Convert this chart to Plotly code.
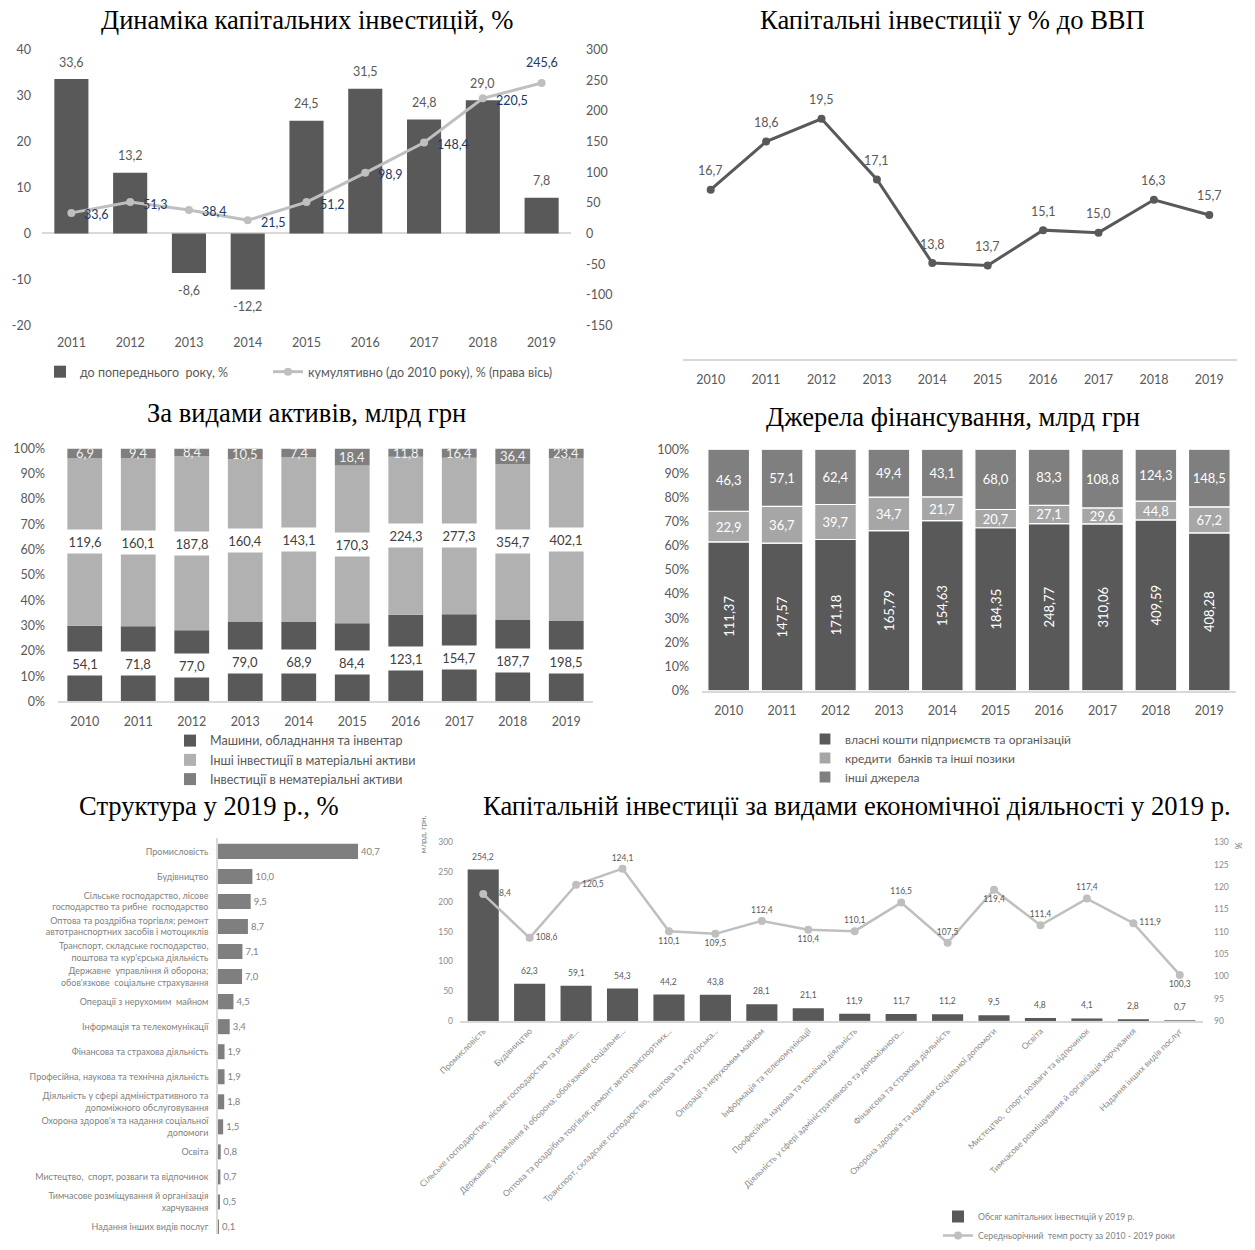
import plotly.graph_objects as go

W, H = 1255, 1250
K = 1.005  # small vertical correction measured against the reference

def fx(px):
    return px / W

def fy(py):
    return 1 - py * K / H

def fmt(v, d=1):
    return f"{v:.{d}f}".replace(".", ",")

# ---------------- DATA ----------------
# Panel 1: dynamics of capital investment
years_dyn = ["2011", "2012", "2013", "2014", "2015", "2016", "2017", "2018", "2019"]
yoy_change = [33.6, 13.2, -8.6, -12.2, 24.5, 31.5, 24.8, 29.0, 7.8]
cumulative = [33.6, 51.3, 38.4, 21.5, 51.2, 98.9, 148.4, 220.5, 245.6]
left_ticks = [-20, -10, 0, 10, 20, 30, 40]
right_ticks = [-150, -100, -50, 0, 50, 100, 150, 200, 250, 300]

# Panel 2: capital investment, % of GDP
years = ["2010", "2011", "2012", "2013", "2014", "2015", "2016", "2017", "2018", "2019"]
gdp_share = [16.7, 18.6, 19.5, 17.1, 13.8, 13.7, 15.1, 15.0, 16.3, 15.7]

# Panel 3: by asset type, bn UAH
machines = [54.1, 71.8, 77.0, 79.0, 68.9, 84.4, 123.1, 154.7, 187.7, 198.5]
tangible_other = [119.6, 160.1, 187.8, 160.4, 143.1, 170.3, 224.3, 277.3, 354.7, 402.1]
intangible = [6.9, 9.4, 8.4, 10.5, 7.4, 18.4, 11.8, 16.4, 36.4, 23.4]

# Panel 4: sources of financing, bn UAH
own_funds = [111.37, 147.57, 171.18, 165.79, 154.63, 184.35, 248.77, 310.06, 409.59, 408.28]
bank_loans = [22.9, 36.7, 39.7, 34.7, 21.7, 20.7, 27.1, 29.6, 44.8, 67.2]
other_sources = [46.3, 57.1, 62.4, 49.4, 43.1, 68.0, 83.3, 108.8, 124.3, 148.5]

# Panel 5: structure in 2019, %
struct_labels = [
    "Промисловість",
    "Будівництво",
    "Сільське господарство, лісове<br>господарство та рибне  господарство",
    "Оптова та роздрібна торгівля; ремонт<br>автотранспортних засобів і мотоциклів",
    "Транспорт, складське господарство,<br>поштова та кур'єрська діяльність",
    "Державне  управління й оборона;<br>обов'язкове  соціальне страхування",
    "Операції з нерухомим  майном",
    "Інформація та телекомунікації",
    "Фінансова та страхова діяльність",
    "Професійна, наукова та технічна діяльність",
    "Діяльність у сфері адміністративного та<br>допоміжного обслуговування",
    "Охорона здоров'я та надання соціальної<br>допомоги",
    "Освіта",
    "Мистецтво,  спорт, розваги та відпочинок",
    "Тимчасове розміщування й організація<br>харчування",
    "Надання інших видів послуг",
]
struct_values = [40.7, 10.0, 9.5, 8.7, 7.1, 7.0, 4.5, 3.4, 1.9, 1.9, 1.8, 1.5, 0.8, 0.7, 0.5, 0.1]

# Panel 6: by economic activity in 2019
activity_labels = [
    "Промисловість",
    "Будівництво",
    "Сільське господарство, лісове господарство та рибне...",
    "Державне управління й оборона; обов'язкове соціальне...",
    "Оптова та роздрібна торгівля; ремонт автотранспортних...",
    "Транспорт, складське господарство, поштова та кур'єрська...",
    "Операції з нерухомим майном",
    "Інформація та телекомунікації",
    "Професійна, наукова та технічна діяльність",
    "Діяльність у сфері адміністративного та допоміжного...",
    "Фінансова та страхова діяльність",
    "Охорона здоров'я та надання соціальної допомоги",
    "Освіта",
    "Мистецтво,  спорт, розваги та відпочинок",
    "Тимчасове розміщування й організація харчування",
    "Надання інших видів послуг",
]
activity_volume = [254.2, 62.3, 59.1, 54.3, 44.2, 43.8, 28.1, 21.1, 11.9, 11.7, 11.2, 9.5, 4.8, 4.1, 2.8, 0.7]
activity_growth = [118.4, 108.6, 120.5, 124.1, 110.1, 109.5, 112.4, 110.4, 110.1, 116.5, 107.5, 119.4, 111.4, 117.4, 111.9, 100.3]

# ---------------- STYLE ----------------
FONT = "Lato"
SERIF = "Liberation Serif"
DARK = "#595959"
MID = "#7f7f7f"
LIGHT = "#b1b1b1"
LINE_L = "#bfbfbf"
AXIS_LINE = "#d9d9d9"
TICK_C = "#595959"
NAVY = "#203864"
TITLE_SIZE = 26.6

growth_text_pos = ["middle right", "middle right", "middle right", "top center", "bottom center",
                   "bottom center", "top center", "bottom center", "top center", "top center",
                   "top center", "bottom center", "top center", "top center", "middle right",
                   "bottom center"]

fig = go.Figure()
annotations = []

# ---------- Panel 1 ----------
fig.add_trace(go.Bar(
    x=years_dyn, y=yoy_change, xaxis="x", yaxis="y", width=0.58,
    marker=dict(color=DARK), name="до попереднього  року, %", legend="legend",
))
for i, v in enumerate(yoy_change):
    annotations.append(dict(
        x=i, y=v, xref="x", yref="y", text=fmt(v), showarrow=False,
        xanchor="center", yanchor="middle", yshift=17 if v >= 0 else -17,
        font=dict(family=FONT, size=12.5, color=DARK),
    ))
fig.add_trace(go.Scatter(
    x=years_dyn, y=cumulative, xaxis="x", yaxis="y2", mode="lines+markers",
    line=dict(color=LINE_L, width=3), marker=dict(color=LINE_L, size=8),
    name="кумулятивно (до 2010 року), % (права вісь)", cliponaxis=False,
    legend="legend2",
))
n_cum = len(cumulative)
for i, v in enumerate(cumulative):
    last = i == n_cum - 1
    annotations.append(dict(
        x=i, y=v, xref="x", yref="y2", text=fmt(v), showarrow=False,
        xanchor="center" if last else "left", yanchor="middle",
        xshift=0 if last else 11, yshift=20 if last else -2,
        font=dict(family=FONT, size=12.5, color=NAVY),
    ))

# ---------- Panel 2 ----------
fig.add_trace(go.Scatter(
    x=years, y=gdp_share, xaxis="x3", yaxis="y3", mode="lines+markers",
    line=dict(color=DARK, width=3), marker=dict(color=DARK, size=8),
    showlegend=False, cliponaxis=False,
))
for i, v in enumerate(gdp_share):
    annotations.append(dict(
        x=i, y=v, xref="x3", yref="y3", text=fmt(v), showarrow=False,
        xanchor="center", yanchor="middle", yshift=19,
        font=dict(family=FONT, size=12.5, color=DARK),
    ))

# ---------- Panel 3 ----------
tot3 = [a + b + c for a, b, c in zip(machines, tangible_other, intangible)]
p_m = [a / t * 100 for a, t in zip(machines, tot3)]
p_o = [b / t * 100 for b, t in zip(tangible_other, tot3)]
p_i = [c / t * 100 for c, t in zip(intangible, tot3)]
for vals, col, nm in [(p_m, DARK, "Машини, обладнання та інвентар"),
                      (p_o, LIGHT, "Інші інвестиції в матеріальні активи"),
                      (p_i, MID, "Інвестиції в нематеріальні активи")]:
    fig.add_trace(go.Bar(
        x=years, y=vals, xaxis="x4", yaxis="y4", width=0.65,
        marker=dict(color=col, line=dict(width=0)), name=nm, legend="legend3",
    ))

for i in range(len(years)):
    c1 = p_m[i] / 2
    c2 = p_m[i] + p_o[i] / 2
    c3 = p_m[i] + p_o[i] + p_i[i] / 2
    for c, v in [(c1, machines[i]), (c2, tangible_other[i])]:
        annotations.append(dict(
            x=i, y=c, xref="x4", yref="y4", text=fmt(v), showarrow=False,
            bgcolor="white", width=44, height=21, borderpad=1,
            font=dict(family=FONT, size=13, color="#404040"),
        ))
    annotations.append(dict(
        x=i, y=c3, xref="x4", yref="y4", text=fmt(intangible[i]), showarrow=False,
        font=dict(family=FONT, size=13, color="#f2f2f2"),
    ))

# ---------- Panel 4 ----------
tot4 = [a + b + c for a, b, c in zip(own_funds, bank_loans, other_sources)]
q_own = [a / t * 100 for a, t in zip(own_funds, tot4)]
q_bank = [b / t * 100 for b, t in zip(bank_loans, tot4)]
q_oth = [c / t * 100 for c, t in zip(other_sources, tot4)]
for vals, raw, col, nm, ang, d in [
        (q_own, own_funds, DARK, "власні кошти підприємств та організацій", -90, 2),
        (q_bank, bank_loans, "#a6a6a6", "кредити  банків та інші позики", 0, 1),
        (q_oth, other_sources, MID, "інші джерела", 0, 1)]:
    fig.add_trace(go.Bar(
        x=years, y=vals, xaxis="x5", yaxis="y5", width=0.78,
        marker=dict(color=col, line=dict(color="white", width=1.2)), name=nm, legend="legend4",
        text=[fmt(v, d) for v in raw], textposition="inside", insidetextanchor="middle",
        textangle=ang, constraintext="none",
        insidetextfont=dict(family=FONT, size=13, color="white"),
    ))

# ---------- Panel 5 ----------
fig.add_trace(go.Bar(
    x=struct_values, y=struct_labels, orientation="h", xaxis="x6", yaxis="y6", width=0.6,
    marker=dict(color=MID), showlegend=False,
    text=[fmt(v) for v in struct_values], textposition="outside",
    textfont=dict(family=FONT, size=9.5, color=MID), cliponaxis=False,
))

# ---------- Panel 6 ----------
fig.add_trace(go.Bar(
    x=activity_labels, y=activity_volume, xaxis="x7", yaxis="y7", width=0.67,
    marker=dict(color=DARK), name="Обсяг капітальних інвестицій у 2019 р.", legend="legend5",
))
for i, v in enumerate(activity_volume):
    annotations.append(dict(
        x=i, y=v, xref="x7", yref="y7", text=fmt(v), showarrow=False,
        xanchor="center", yanchor="middle", yshift=13,
        font=dict(family=FONT, size=8.5, color=DARK),
    ))
fig.add_trace(go.Scatter(
    x=activity_labels, y=activity_growth, xaxis="x7", yaxis="y8", mode="lines+markers+text",
    line=dict(color=LINE_L, width=2.5), marker=dict(color=LINE_L, size=8),
    name="Середньорічний  темп росту за 2010 - 2019 роки", legend="legend5",
    text=[fmt(v) for v in activity_growth], textposition=growth_text_pos,
    textfont=dict(family=FONT, size=8.5, color=DARK), cliponaxis=False,
))

# ---------- Titles ----------
titles = [
    ("Динаміка капітальних інвестицій, %", 307, 20),
    ("Капітальні інвестиції у % до ВВП", 953, 20),
    ("За видами активів, млрд грн", 306, 416),
    ("Джерела фінансування, млрд грн", 953, 420),
    ("Структура у 2019 р., %", 209, 812),
    ("Капітальній інвестиції за видами економічної діяльності у 2019 р.", 857, 812),
]
for t, x, y in titles:
    annotations.append(dict(
        x=fx(x), y=fy(y), xref="paper", yref="paper", text=t, showarrow=False,
        xanchor="center", yanchor="middle",
        font=dict(family=SERIF, size=TITLE_SIZE, color="black"),
    ))
annotations.append(dict(x=fx(423), y=fy(862), xref="paper", yref="paper", text="млрд. грн.",
                        showarrow=False, textangle=-90, font=dict(family=FONT, size=8, color=MID)))
annotations.append(dict(x=fx(1246), y=fy(858), xref="paper", yref="paper", text="%",
                        showarrow=False, textangle=90, font=dict(family=FONT, size=9, color=MID)))

tickf = dict(family=FONT, size=12.5, color=TICK_C)
cat_axis = dict(type="category", showgrid=False, zeroline=False, fixedrange=True, automargin=False)
num_axis = dict(showgrid=False, zeroline=False, fixedrange=True, automargin=False)
small_tick = dict(family=FONT, size=8.5, color="#8c8c8c")
legend_common = dict(xanchor="left", yanchor="middle", traceorder="normal",
                     bgcolor="rgba(0,0,0,0)", itemwidth=30, tracegroupgap=0)

layout = dict(
    template="none",
    width=W, height=H, margin=dict(l=0, r=0, t=0, b=0, pad=0), autosize=False,
    paper_bgcolor="white", plot_bgcolor="white", barmode="relative",
    font=dict(family=FONT, color=TICK_C),
    annotations=annotations,
    # panel 1
    xaxis=dict(cat_axis, domain=[fx(42), fx(571)], anchor="y", range=[-0.5, 8.5],
               tickfont=tickf, ticks="", ticklabelstandoff=8, showline=False),
    yaxis=dict(num_axis, domain=[fy(328), fy(50)], anchor="x", range=[-20, 40],
               tickmode="array", tickvals=left_ticks, ticktext=[str(t) for t in left_ticks],
               zeroline=True, zerolinecolor=AXIS_LINE, zerolinewidth=1.5,
               tickfont=tickf, ticks="", ticklabelstandoff=10, showline=False),
    yaxis2=dict(num_axis, overlaying="y", side="right", anchor="x", range=[-150, 300],
                tickmode="array", tickvals=right_ticks, ticktext=[str(t) for t in right_ticks],
                tickfont=tickf, ticks="", ticklabelstandoff=14, showline=False),
    # panel 2
    xaxis3=dict(cat_axis, domain=[fx(683), fx(1237)], anchor="y3", range=[-0.5, 9.5],
                tickfont=tickf, ticks="", showline=True, linecolor=AXIS_LINE, linewidth=2,
                ticklabelstandoff=8),
    yaxis3=dict(num_axis, domain=[fy(362), fy(56)], anchor="x3", range=[10, 22], visible=False),
    # panel 3
    xaxis4=dict(cat_axis, domain=[fx(58), fx(593)], anchor="y4", range=[-0.5, 9.5],
                tickfont=tickf, ticks="", showline=True, linecolor=AXIS_LINE, linewidth=1.5,
                ticklabelstandoff=8),
    yaxis4=dict(num_axis, domain=[fy(707), fy(452)], anchor="x4", range=[0, 100], dtick=10,
                ticksuffix="%", tickfont=tickf, ticks="", ticklabelstandoff=12, showline=False),
    # panel 4
    xaxis5=dict(cat_axis, domain=[fx(702), fx(1236)], anchor="y5", range=[-0.5, 9.5],
                tickfont=tickf, ticks="", showline=True, linecolor=AXIS_LINE, linewidth=1.5,
                ticklabelstandoff=8),
    yaxis5=dict(num_axis, domain=[fy(696), fy(453)], anchor="x5", range=[0, 100], dtick=10,
                ticksuffix="%", tickfont=tickf, ticks="", ticklabelstandoff=12, showline=False),
    # panel 5
    xaxis6=dict(num_axis, domain=[fx(218), fx(390)], anchor="y6", range=[0, 50], visible=False),
    yaxis6=dict(cat_axis, domain=[0, fy(845)], anchor="x6", range=[15.28, -0.52], dtick=1,
                showline=True, linecolor=AXIS_LINE, linewidth=1.5, ticks="",
                tickfont=dict(family=FONT, size=9, color=MID), ticklabelstandoff=6),
    # panel 6
    xaxis7=dict(cat_axis, domain=[fx(460), fx(1203)], anchor="y7", range=[-0.5, 15.5], dtick=1,
                tickangle=-45, showline=True, linecolor=AXIS_LINE, linewidth=1.5, ticks="",
                tickfont=dict(family=FONT, size=8.7, color="#8c8c8c")),
    yaxis7=dict(num_axis, domain=[fy(1029), fy(849)], anchor="x7", range=[0, 300], dtick=50,
                tickfont=small_tick, ticks="", ticklabelstandoff=6, showline=False),
    yaxis8=dict(num_axis, overlaying="y7", side="right", anchor="x7", range=[90, 130], dtick=5,
                tickfont=small_tick, ticks="", ticklabelstandoff=10, showline=False),
    # legends
    legend=dict(legend_common, x=fx(40), y=fy(375), orientation="h",
                font=dict(family=FONT, size=12.5, color=DARK)),
    legend2=dict(legend_common, x=fx(268), y=fy(375), orientation="h",
                 font=dict(family=FONT, size=12.5, color=DARK)),
    legend3=dict(legend_common, x=fx(170), y=fy(766), orientation="v",
                 font=dict(family=FONT, size=12.5, color=DARK)),
    legend4=dict(legend_common, x=fx(805), y=fy(764), orientation="v",
                 font=dict(family=FONT, size=12, color=DARK)),
    legend5=dict(legend_common, x=fx(938), y=fy(1236), orientation="v",
                 font=dict(family=FONT, size=8.7, color=MID)),
)
fig.update_layout(**layout)

fig.write_html("out.html", config={"displayModeBar": False},
               post_script="document.body.style.margin='0px';document.body.style.overflow='hidden';")
